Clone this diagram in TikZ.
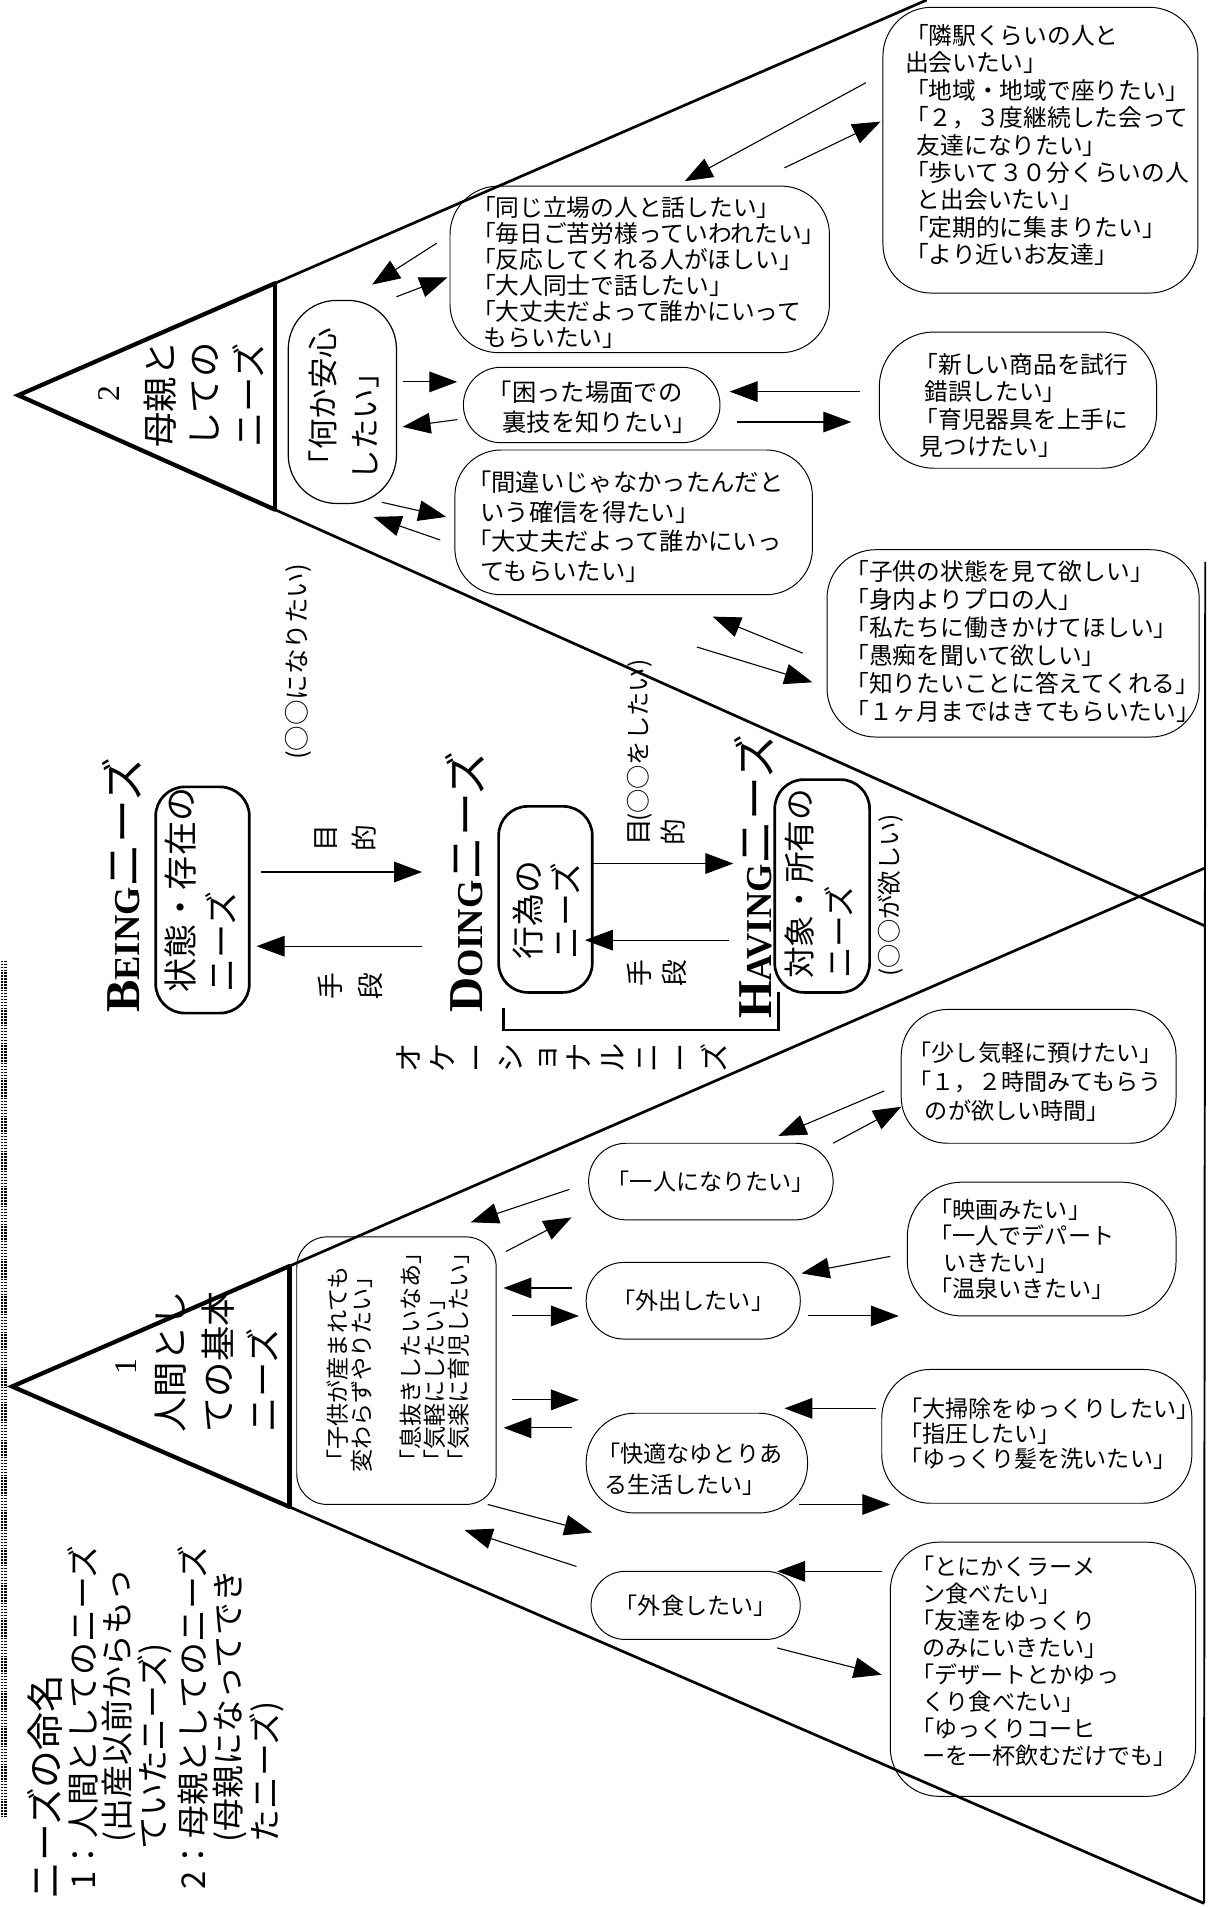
\documentclass[tikz,border=0pt]{standalone}
\usepackage{fontspec}
\setmainfont{Liberation Serif}
\newfontfamily\jp{Noto Sans CJK JP}
\usetikzlibrary{arrows.meta}
\begin{document}
\begin{tikzpicture}[x=1pt,y=-1pt,
  qb/.style={draw, line width=0.8pt, inner sep=0pt},
  bb/.style={draw, line width=2.2pt, inner sep=0pt},
  ar/.style={line width=0.9pt, -{Triangle[length=23pt,width=17pt]}},
  qt/.style={inner sep=0pt, anchor=north west, align=left},
  rt/.style={inner sep=0pt, rotate=90, anchor=north west, align=left},
  rl/.style={inner sep=0pt, rotate=90, anchor=west},
  stk/.style={inner sep=0pt, rotate=90, align=center},
  thick tri/.style={line width=3.5pt, line join=miter, line cap=round},
  thin tri/.style={line width=2.2pt},
  fq/.style={font=\jp\fontsize{19.5}{#1}\selectfont},
  fl/.style={font=\jp\fontsize{19}{#1}\selectfont}
]
\useasboundingbox (0,0) rectangle (993,1568);
\fill[white] (0,0) rectangle (993,1568);

% ---------- triangles ----------
\coordinate (apexU) at (15,325);
\coordinate (barUt) at (226,233);
\coordinate (barUb) at (226,419);
\coordinate (endUt) at (762,0);
\coordinate (endUb) at (990,761);
\draw[thick tri] (barUt) -- (apexU) -- (barUb);
\draw[line width=3.5pt] (barUt) -- (barUb);
\draw[thin tri] (barUt) -- (endUt);
\draw[thin tri] (barUb) -- (endUb);

\coordinate (apexL) at (10,1140);
\coordinate (barLt) at (238,1041);
\coordinate (barLb) at (238,1239);
\coordinate (endLt) at (990,714);
\coordinate (endLb) at (990,1565);
\draw[thick tri] (barLt) -- (apexL) -- (barLb);
\draw[line width=3.5pt] (barLt) -- (barLb);
\draw[thin tri] (barLt) -- (endLt);
\draw[thin tri] (barLb) -- (endLb);
\coordinate (rtop) at (991,462);
\draw[line width=1.6pt] (rtop) -- (endLb);

% dotted screen edge
\coordinate (d1) at (1.5,790);
\coordinate (d2) at (1.5,1494);
\draw[line width=2pt, dash pattern=on 1.2pt off 1.2pt] (d1) -- (d2);
\draw[line width=2pt, dash pattern=on 1.2pt off 1.2pt] ([xshift=3pt]d1) -- ([xshift=3pt]d2);

% ---------- legend ----------
\node[rl, font=\jp\fontsize{31}{31}\selectfont] (lg0) at (37,1562) {ニーズの命名};
\node[rl, font=\jp\fontsize{27}{27}\selectfont] (lg1) at (68,1554) {1：人間としてのニーズ};
\node[rl, font=\jp\fontsize{27}{27}\selectfont] (lg2) at (98,1515) {(出産以前からもっ};
\node[rl, font=\jp\fontsize{27}{27}\selectfont] (lg3) at (127,1521) {ていたニーズ)};
\node[rl, font=\jp\fontsize{27}{27}\selectfont] (lg4) at (159,1554) {2：母親としてのニーズ};
\node[rl, font=\jp\fontsize{27}{27}\selectfont] (lg5) at (189,1515) {(母親になってでき};
\node[rl, font=\jp\fontsize{27}{27}\selectfont] (lg6) at (219,1515) {たニーズ)};

% ---------- triangle labels ----------
\node[inner sep=0, rotate=90, font=\fontsize{26}{26}\selectfont] (n2) at (90,324) {2};
\node[rl, font=\jp\fontsize{29}{29}\selectfont] (m1) at (132,368) {母親と};
\node[rl, font=\jp\fontsize{29}{29}\selectfont] (m2) at (168,368) {しての};
\node[rl, font=\jp\fontsize{29}{29}\selectfont] (m3) at (204,368) {ニーズ};
\node[inner sep=0, rotate=90, font=\fontsize{26}{26}\selectfont] (n1) at (104,1124) {1};
\node[rl, font=\jp\fontsize{29}{29}\selectfont] (h1) at (140,1178) {人間とし};
\node[rl, font=\jp\fontsize{29}{29}\selectfont] (h2) at (179,1178) {ての基本};
\node[rl, font=\jp\fontsize{29}{29}\selectfont] (h3) at (216,1178) {ニーズ};

% ---------- BEING / DOING / HAVING ----------
\node[rotate=90, anchor=base west, inner sep=0] (beingT) at (115,833)
  {\bfseries\fontsize{40}{40}\selectfont B\fontsize{30}{30}\selectfont EING\mdseries\jp\fontsize{36}{36}\selectfont ニーズ};
\node[rotate=90, anchor=base west, inner sep=0] (doingT) at (397,833)
  {\bfseries\fontsize{40}{40}\selectfont D\fontsize{30}{30}\selectfont OING\mdseries\jp\fontsize{36}{36}\selectfont ニーズ};
\node[rotate=90, anchor=base west, inner sep=0] (havingT) at (634,838)
  {\bfseries\fontsize{40}{40}\selectfont H\fontsize{30}{30}\selectfont AVING\mdseries\jp\fontsize{36}{36}\selectfont ニーズ};

\node[bb, rounded corners=24pt, minimum width=77pt, minimum height=186pt] (beingbox) at (166.5,740) {};
\node[rt, font=\jp\fontsize{28}{34}\selectfont] (beingtx) at (135,816) {状態・存在の\\ニーズ};
\node[bb, rounded corners=24pt, minimum width=77pt, minimum height=153pt] (doingbox) at (448.5,739.5) {};
\node[rt, font=\jp\fontsize{27}{31}\selectfont] (doingtx) at (421.5,789) {行為の\\ニーズ};
\node[bb, rounded corners=24pt, minimum width=78pt, minimum height=175pt] (havingbox) at (676,728.5) {};
\node[rt, font=\jp\fontsize{26}{33}\selectfont] (havingtx) at (645,805) {対象・所有の\\ニーズ};

\node[rl, font=\jp\fontsize{21}{21}\selectfont] (naritai) at (245,625) {(○○になりたい)};
\node[rl, font=\jp\fontsize{20}{20}\selectfont] (shitai) at (526,676) {(○○をしたい)};
\node[rl, font=\jp\fontsize{20}{20}\selectfont] (hoshii) at (732,803) {(○○が欲しい)};

\node[stk, font=\jp\fontsize{22}{32}\selectfont] (mok1) at (284,689) {目\\的};
\node[stk, font=\jp\fontsize{22}{33}\selectfont] (shu1) at (288,811) {手\\段};
\node[stk, font=\jp\fontsize{22}{29}\selectfont, fill=white] (mok2) at (540,684) {目\\的};
\node[stk, font=\jp\fontsize{22}{29}\selectfont] (shu2) at (540,800) {手\\段};
\node[stk, font=\jp\fontsize{24}{28}\selectfont] (occ) at (462,870) {オ\\ケ\\ー\\シ\\ョ\\ナ\\ル\\ニ\\ー\\ズ};

\draw[ar] (215,717) -- (347,717);
\draw[ar] (347,778) -- (211,778);
\draw[ar] (486,710) -- (603,710);
\draw[ar] (599,773) -- (481,773);
\coordinate (bk1) at (414,829);
\coordinate (bk2) at (640,816);
\draw[line width=2.2pt] (bk1) -- (bk1 |- 0,847) -- (bk2 |- 0,847) -- (bk2);

% ---------- upper needs ----------
\node[qb, line width=1pt, rounded corners=40pt, minimum width=89pt, minimum height=167pt] (anshin) at (281.5,330.5) {};
\node[rt, font=\jp\fontsize{25}{35}\selectfont] (anshintx) at (253.5,395) {「何か安心\\したい」};

\node[qb, rounded corners=40pt, minimum width=312pt, minimum height=137pt] (u1) at (526,221.5) {};
\node[qt, fq=21.4] (u1t) at (388,161) {「同じ立場の人と話したい」\\「毎日ご苦労様っていわれたい」\\「反応してくれる人がほしい」\\「大人同士で話したい」\\「大丈夫だよって誰かにいって\\\hspace*{0.5em}もらいたい」};

\node[qb, rounded corners=31pt, minimum width=211pt, minimum height=62pt] (u2) at (486.5,333) {};
\node[qt, font=\jp\fontsize{20}{25}\selectfont] (u2t) at (401,313) {「困った場面での\\\hspace*{0.6em}裏技を知りたい」};

\node[qb, rounded corners=38pt, minimum width=294pt, minimum height=119pt] (u3) at (521,429.5) {};
\node[qt, font=\jp\fontsize{20}{24.3}\selectfont] (u3t) at (384,387) {「間違いじゃなかったんだと\\\hspace*{0.55em}いう確信を得たい」\\「大丈夫だよって誰かにいっ\\\hspace*{0.55em}てもらいたい」};

\node[qb, rounded corners=45pt, minimum width=228pt, minimum height=112pt] (u4) at (837,329) {};
\node[qt, fq=22.7] (u4t) at (752,290) {「新しい商品を試行\\\hspace*{0.4em}錯誤したい」\\「育児器具を上手に\\\hspace*{0.2em}見つけたい」};

\node[qb, rounded corners=40pt, minimum width=306pt, minimum height=154pt] (u5) at (833,529) {};
\node[qt, fq=23] (u5t) at (695,461) {「子供の状態を見て欲しい」\\「身内よりプロの人」\\「私たちに働きかけてほしい」\\「愚痴を聞いて欲しい」\\「知りたいことに答えてくれる」\\「１ヶ月まではきてもらいたい」};

\node[qb, rounded corners=40pt, minimum width=259pt, minimum height=235pt] (u6) at (855.5,123.5) {};
\node[qt, fq=22.5] (u6t) at (744,20) {「隣駅くらいの人と\\出会いたい」\\「地域・地域で座りたい」\\「２，３度継続した会って\\\hspace*{0.5em}友達になりたい」\\「歩いて３０分くらいの人\\\hspace*{0.5em}と出会いたい」\\「定期的に集まりたい」\\「より近いお友達」};

\draw[ar] (359,200) -- (306,234);
\draw[ar] (326,244) -- (368,228);
\draw[ar] (331,314) -- (376,314);
\draw[ar] (376,345) -- (331,351);
\draw[ar] (314,413) -- (367,425);
\draw[ar] (362,444) -- (307,425);
\draw[ar] (707,322) -- (600,322);
\draw[ar] (606,347) -- (700,347);
\draw[ar] (660,537) -- (586,507);
\draw[ar] (573,532) -- (668,561);
\draw[ar] (712,68) -- (563,149);
\draw[ar] (645,138) -- (724,100);

% ---------- lower needs ----------
\node[qb, rounded corners=25pt, minimum width=164pt, minimum height=220pt] (l0) at (326,1127) {};
\node[rt, font=\jp\fontsize{19}{20}\selectfont] (l0t) at (268.5,1211) {「子供が産まれても\\変わらずやりたい」\\[20pt]「息抜きしたいなあ」\\「気軽にしたい」\\「気楽に育児したい」};

\node[qb, rounded corners=31pt, minimum width=201pt, minimum height=63pt, fl=19] (l1) at (584.5,971.5) {「一人になりたい」};
\node[qb, rounded corners=31pt, minimum width=176pt, minimum height=63pt, fl=19] (l2) at (570,1069.5) {「外出したい」};
\node[qb, rounded corners=40pt, minimum width=182pt, minimum height=82pt] (l3) at (573,1203) {};
\node[qt, fl=25] (l3t) at (491,1186.5) {「快適なゆとりあ\\\hspace*{0.3em}る生活したい」};
\node[qb, rounded corners=28pt, minimum width=172pt, minimum height=56pt, fl=19] (l4) at (572,1320) {「外食したい」};

\node[qb, rounded corners=38pt, minimum width=226pt, minimum height=110pt] (l5) at (854,885) {};
\node[qt, fl=24] (l5t) at (747,856.5) {「少し気軽に預けたい」\\「１，２時間みてもらう\\\hspace*{0.7em}のが欲しい時間」};
\node[qb, rounded corners=45pt, minimum width=221pt, minimum height=110pt] (l6) at (856.5,1027) {};
\node[qt, fl=21.7] (l6t) at (764,985.5) {「映画みたい」\\「一人でデパート\\\hspace*{0.6em}いきたい」\\「温泉いきたい」};
\node[qb, rounded corners=40pt, minimum width=255pt, minimum height=110pt] (l7) at (852.5,1181) {};
\node[qt, fl=20.5] (l7t) at (739,1149.5) {「大掃除をゆっくりしたい」\\「指圧したい」\\「ゆっくり髪を洗いたい」};
\node[qb, rounded corners=40pt, minimum width=251pt, minimum height=209pt] (l8) at (857.5,1372.5) {};
\node[qt, fl=22.1] (l8t) at (749,1279.5) {「とにかくラーメ\\\hspace*{0.5em}ン食べたい」\\「友達をゆっくり\\\hspace*{0.5em}のみにいきたい」\\「デザートとかゆっ\\\hspace*{0.5em}くり食べたい」\\「ゆっくりコーヒ\\\hspace*{0.5em}ーを一杯飲むだけでも」};

\draw[ar] (468,978) -- (387,1005);
\draw[ar] (416,1029) -- (470,1001);
\draw[ar] (470,1059) -- (414,1059);
\draw[ar] (421,1082) -- (476,1082);
\draw[ar] (421,1151) -- (476,1151);
\draw[ar] (470,1174) -- (414,1174);
\draw[ar] (401,1237) -- (487,1260);
\draw[ar] (474,1288) -- (382,1258);
\draw[ar] (727,897) -- (640,934);
\draw[ar] (685,940) -- (741,910);
\draw[ar] (732,1033) -- (659,1047);
\draw[ar] (664,1082) -- (739,1082);
\draw[ar] (720,1158) -- (645,1158);
\draw[ar] (657,1237) -- (732,1237);
\draw[ar] (725,1292) -- (639,1292);
\draw[ar] (639,1355) -- (725,1377);
\end{tikzpicture}
\end{document}
